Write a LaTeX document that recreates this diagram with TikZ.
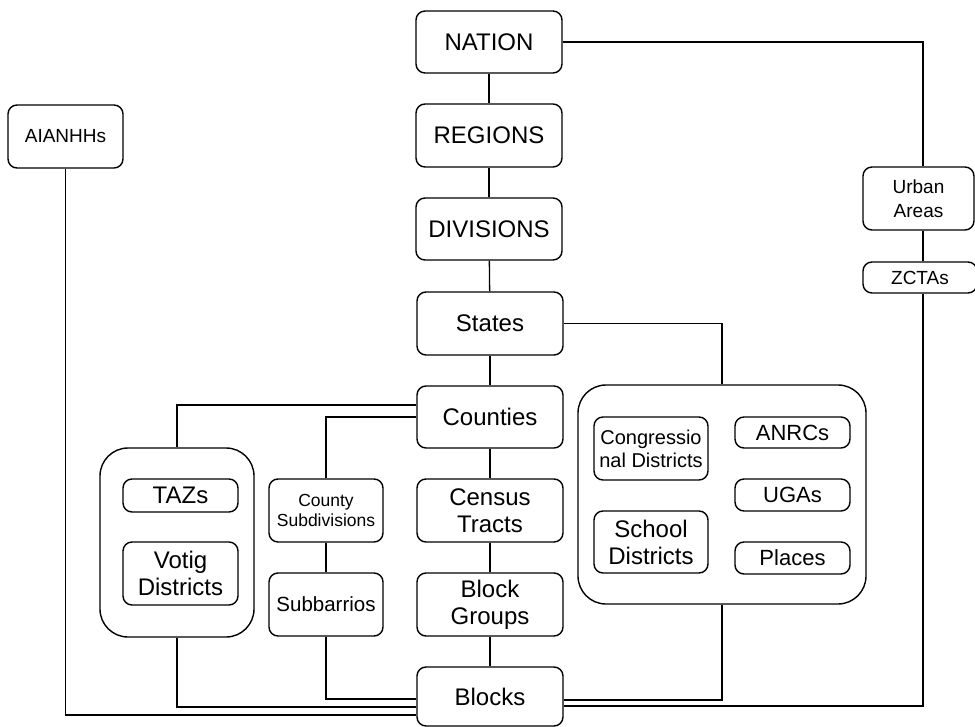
\documentclass[tikz,border=0pt]{standalone}
\usepackage{fontspec}
\setmainfont{Liberation Sans}
\usetikzlibrary{calc}
\begin{document}
\begin{tikzpicture}[x=1pt,y=-1pt,
  box/.style={draw, line width=1.4pt, rounded corners=9pt, align=center, inner sep=0pt},
  grp/.style={draw, line width=1.4pt, rounded corners=28pt, inner sep=0pt},
  big/.style={font=\fontsize{24}{27}\selectfont},
  mid/.style={font=\fontsize{22}{25}\selectfont},
  sml/.style={font=\fontsize{19}{24}\selectfont},
  conn/.style={line width=1.3pt}]
\useasboundingbox (0,0) rectangle (975,727);
% group boxes
\node[grp, minimum width=154pt, minimum height=189pt] (tazg) at (177,542.5) {};
\node[grp, minimum width=288pt, minimum height=219pt] (rg) at (722,494.5) {};
% main column
\node[box, big, minimum width=146pt, minimum height=62pt] (nation) at (489,42) {NATION};
\node[box, big, minimum width=146pt, minimum height=63pt] (regions) at (489,135.5) {REGIONS};
\node[box, big, minimum width=146pt, minimum height=62pt] (divisions) at (489,229) {DIVISIONS};
\node[box, big, minimum width=146pt, minimum height=63pt] (states) at (490,323.5) {States};
\node[box, big, minimum width=146pt, minimum height=62pt] (counties) at (490,417) {Counties};
\node[box, big, minimum width=146pt, minimum height=63pt] (tracts) at (490,510.5) {Census\\Tracts};
\node[box, big, minimum width=146pt, minimum height=63pt] (bgroups) at (490,604.5) {Block\\Groups};
\node[box, big, minimum width=146pt, minimum height=59pt] (blocks) at (490,696.5) {Blocks};
% left
\node[box, sml, minimum width=115pt, minimum height=63pt] (aian) at (65.5,136.5) {AIANHHs};
\node[box, big, minimum width=115pt, minimum height=33pt] (taz) at (180.5,495.5) {TAZs};
\node[box, big, minimum width=115pt, minimum height=63pt] (votig) at (180.5,573.5) {Votig\\Districts};
\node[box, font=\fontsize{17.5}{20.5}\selectfont, minimum width=114pt, minimum height=63pt] (csub) at (326,510.5) {County\\Subdivisions};
\node[box, font=\fontsize{20.5}{24}\selectfont, minimum width=114pt, minimum height=63pt] (subb) at (326,604.5) {Subbarrios};
% right
\node[box, sml, minimum width=111pt, minimum height=63pt] (urban) at (918.5,198.5) {Urban\\Areas};
\node[box, sml, minimum width=114pt, minimum height=31pt] (zcta) at (920,277.5) {ZCTAs};
\coordinate (ra) at ([xshift=4.5pt]urban.north);
\coordinate (rb) at ([xshift=4.5pt]urban.south);
\coordinate (rc) at ([xshift=3pt]zcta.north);
\coordinate (rd) at ([xshift=3pt]zcta.south);
\node[box, font=\fontsize{20}{23}\selectfont, minimum width=114pt, minimum height=63pt] (congr) at (651,448.5) {Congressio\\nal Districts};
\node[box, big, minimum width=114pt, minimum height=62pt] (school) at (651,542) {School\\Districts};
\node[box, mid, minimum width=115pt, minimum height=31pt] (anrc) at (792.5,432.5) {ANRCs};
\node[box, mid, minimum width=115pt, minimum height=32pt] (uga) at (792.5,495) {UGAs};
\node[box, mid, minimum width=115pt, minimum height=32pt] (places) at (792.5,558) {Places};
% connectors
\draw[conn] (nation) -- (regions);
\draw[conn] (regions) -- (divisions);
\draw[conn] (divisions) -- (states);
\draw[conn] (states) -- (counties);
\draw[conn] (counties) -- (tracts);
\draw[conn] (tracts) -- (bgroups);
\draw[conn] (bgroups) -- (blocks);
\draw[conn] (nation.east) -| (ra);
\draw[conn] (rb) -- (rc);
\draw[conn] (rd) |- ([yshift=-9.5pt]blocks.east);
\draw[conn] (states.east) -| (rg.north);
\draw[conn] (rg.south) |- ([yshift=-3.5pt]blocks.east);
\draw[conn] ([yshift=12pt]counties.west) -| (tazg.north);
\draw[conn] (counties.west) -| (csub.north);
\draw[conn] (csub) -- (subb);
\draw[conn] (subb.south) |- ([yshift=-2.5pt]blocks.west);
\draw[conn] (tazg.south) |- ([yshift=-10.5pt]blocks.west);
\draw[conn] (aian.south) |- ([yshift=-18.5pt]blocks.west);
\end{tikzpicture}
\end{document}
